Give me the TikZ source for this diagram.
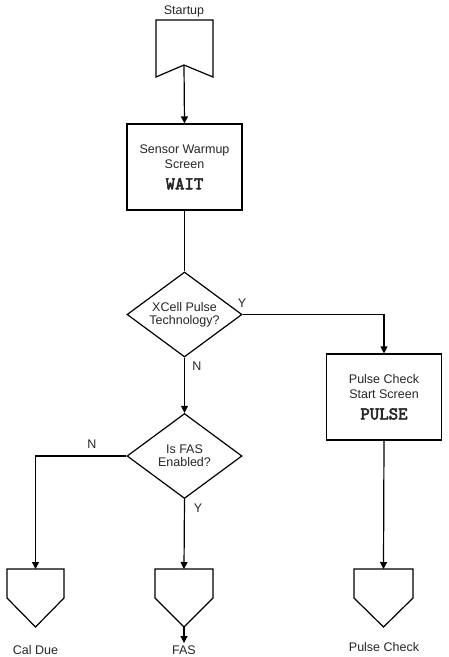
\documentclass[tikz,border=0pt]{standalone}
\usepackage{fontspec}
\setmainfont{Liberation Sans}
\newfontfamily\courb{lmmono10-regular}[Extension=.otf, FakeBold=3]
\usetikzlibrary{shapes.geometric,arrows.meta}
\begin{document}
\begin{tikzpicture}[x=1pt,y=-1pt,
  every node/.style={font=\fontsize{12.5}{14}\selectfont, text=black!85},
  ln/.style={line width=1.2pt, draw=black},
  arr/.style={ln, -{Triangle[length=7pt,width=7pt]}},
  procbox/.style={ln, rectangle, minimum width=115pt, minimum height=86pt, inner sep=0pt, align=center},
  decide/.style={ln, diamond, aspect=1.35, minimum width=115pt, minimum height=85pt, inner sep=0pt, align=center},
  lbl/.style={inner sep=0pt}]
\useasboundingbox (0,0) rectangle (448,657);
% Startup connector
\node[lbl] (startlbl) at (184,11) {Startup};
\coordinate (startnotch) at (184,65);
\draw[ln] (156,20) -- (213,20) -- (213,77) -- (startnotch) -- (156,77) -- cycle;
% Sensor warmup box
\node[procbox] (warm) at (184.5,167) {\raisebox{1.5pt}{Sensor Warmup}\\[-0.5pt]Screen\\[7pt]{\fontsize{18}{18}\selectfont\courb WAIT}};
\draw[arr] (startnotch) -- (warm.north);
% Decision 1
\node[decide] (xcell) at (184.5,314.5) {XCell Pulse\\[-1pt]Technology?};
\draw[ln] (warm.south) -- (xcell.north);
% Pulse check box
\node[procbox] (pbox) at (384,397) {\raisebox{1.5pt}{Pulse Check}\\[-0.5pt]Start Screen\\[7pt]{\fontsize{18}{18}\selectfont\courb PULSE}};
\draw[arr] (xcell.east) -| (pbox.north);
\node[lbl] (y1) at (242,303) {Y};
% Decision 2
\node[decide] (fas) at (184.5,456) {Is FAS\\[-1pt]Enabled?};
\draw[arr] (xcell.south) -- (fas.north);
\node[lbl] (n1) at (197,366) {N};
% Bottom off-page connectors
\coordinate (calTop) at (35.5,569);
\coordinate (fasTop) at (184,569);
\coordinate (pulTop) at (383.5,569);
\coordinate (fasTip) at (184,627);
\draw[ln] (7,569) -- (64,569) -- (64,598) -- (35.5,627) -- (7,598) -- cycle;
\draw[ln] (155,569) -- (213,569) -- (213,598) -- (fasTip) -- (155,598) -- cycle;
\draw[ln] (354,569) -- (413,569) -- (413,598) -- (383.5,627) -- (354,598) -- cycle;
\draw[arr] (fas.west) -| (calTop);
\node[lbl] (n2) at (92,444) {N};
\draw[arr] (fas.south) -- (fasTop);
\node[lbl] (y2) at (198,508) {Y};
\draw[arr] (pbox.south) -- (pulTop);
\coordinate (fasEnd) at (184,643);
\draw[arr] (fasTip) -- (fasEnd);
\node[lbl] (calLbl) at (35.5,650) {Cal Due};
\node[lbl] (fasLbl) at (184,650) {FAS};
\node[lbl] (pulLbl) at (384,647) {Pulse Check};
\end{tikzpicture}
\end{document}
